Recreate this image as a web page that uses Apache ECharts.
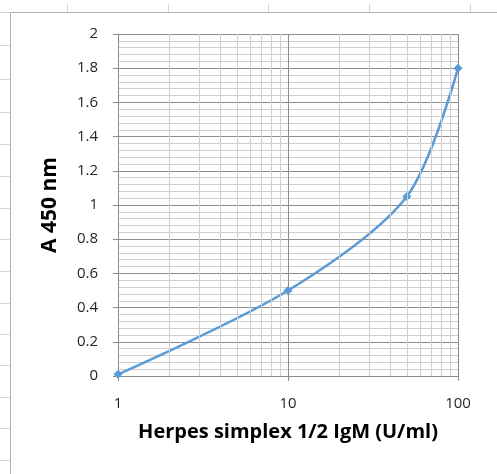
<!DOCTYPE html>
<html><head><meta charset="utf-8">
<script src="https://cdn.jsdelivr.net/npm/echarts@6/dist/echarts.min.js"></script>
<style>html,body{margin:0;padding:0;background:#fff}#c{width:497px;height:474px}</style>
</head><body><div id="c"></div>
<script>
const concentrations = [1, 10, 50, 100];
const absorbance = [0.01, 0.5, 1.05, 1.8];
const xMinorTicks = [2,3,4,5,6,7,8,9,20,30,40,50,60,70,80,90];
const xTitle = 'Herpes simplex 1/2 IgM (U/ml)';
const yTitle = 'A 450 nm';

const sheetRowLines = [12,45,79,112,144,176,208,239,271,303,334,365,397,428,460];
const sheetColLines = [67,168,268,369,470];
const graphics = [];
sheetRowLines.forEach(y => graphics.push({type:'line', shape:{x1:0,y1:y+0.5,x2:10,y2:y+0.5}, style:{stroke:'#d4d4d4',lineWidth:1}}));
sheetColLines.forEach(x => graphics.push({type:'line', shape:{x1:x+0.5,y1:4,x2:x+0.5,y2:12}, style:{stroke:'#d4d4d4',lineWidth:1}}));
graphics.push({type:'line', shape:{x1:10.5,y1:12.5,x2:10.5,y2:474}, style:{stroke:'#b0b0b0',lineWidth:1}});
graphics.push({type:'line', shape:{x1:10.5,y1:12.5,x2:497,y2:12.5}, style:{stroke:'#b0b0b0',lineWidth:1}});

const font = '"Open Sans", Lato, sans-serif';
const chart = echarts.init(document.getElementById('c'));
chart.setOption({
  animation:false,
  graphic: graphics,
  grid:{left:118, right:39, top:34, bottom:98},
  xAxis:{
    type:'log', logBase:10, min:1, max:100,
    name:xTitle, nameLocation:'middle', nameGap:46,
    nameTextStyle:{fontFamily:font, fontSize:20, fontWeight:'bold', color:'#000'},
    axisLine:{lineStyle:{color:'#8c8c8c'}},
    axisTick:{show:true, length:5, lineStyle:{color:'#8c8c8c'}},
    axisLabel:{fontFamily:font, fontSize:15, color:'#262626', margin:20},
    splitLine:{show:true, lineStyle:{color:'#8c8c8c', width:1}},
    minorTick:{show:false}, minorSplitLine:{show:false}
  },
  yAxis:{
    type:'value', min:0, max:2, interval:0.2,
    name:yTitle, nameLocation:'middle', nameGap:57,
    nameTextStyle:{fontFamily:font, fontSize:21, fontWeight:'bold', color:'#000'},
    axisLine:{show:true, lineStyle:{color:'#8c8c8c'}},
    axisTick:{show:true, length:5, lineStyle:{color:'#8c8c8c'}},
    axisLabel:{fontFamily:font, fontSize:15, color:'#262626', margin:20},
    splitLine:{show:true, lineStyle:{color:'#8c8c8c', width:1}},
    minorTick:{show:false, splitNumber:5},
    minorSplitLine:{show:true, lineStyle:{color:'#cfcfcf', width:1}}
  },
  series:[
    {
      type:'line', data:[], silent:true,
      markLine:{silent:true, symbol:['none','none'], label:{show:false},
        lineStyle:{color:'#cfcfcf', type:'solid', width:1},
        data: xMinorTicks.map(v => ({xAxis:v}))}
    },
    {
      type:'line', smooth:0.3,
      data: concentrations.map((x,i)=>[x, absorbance[i]]),
      symbol:'diamond', symbolSize:9,
      lineStyle:{color:'#5B9BD5', width:2.5},
      itemStyle:{color:'#5B9BD5'}
    }
  ]
});
</script></body></html>
